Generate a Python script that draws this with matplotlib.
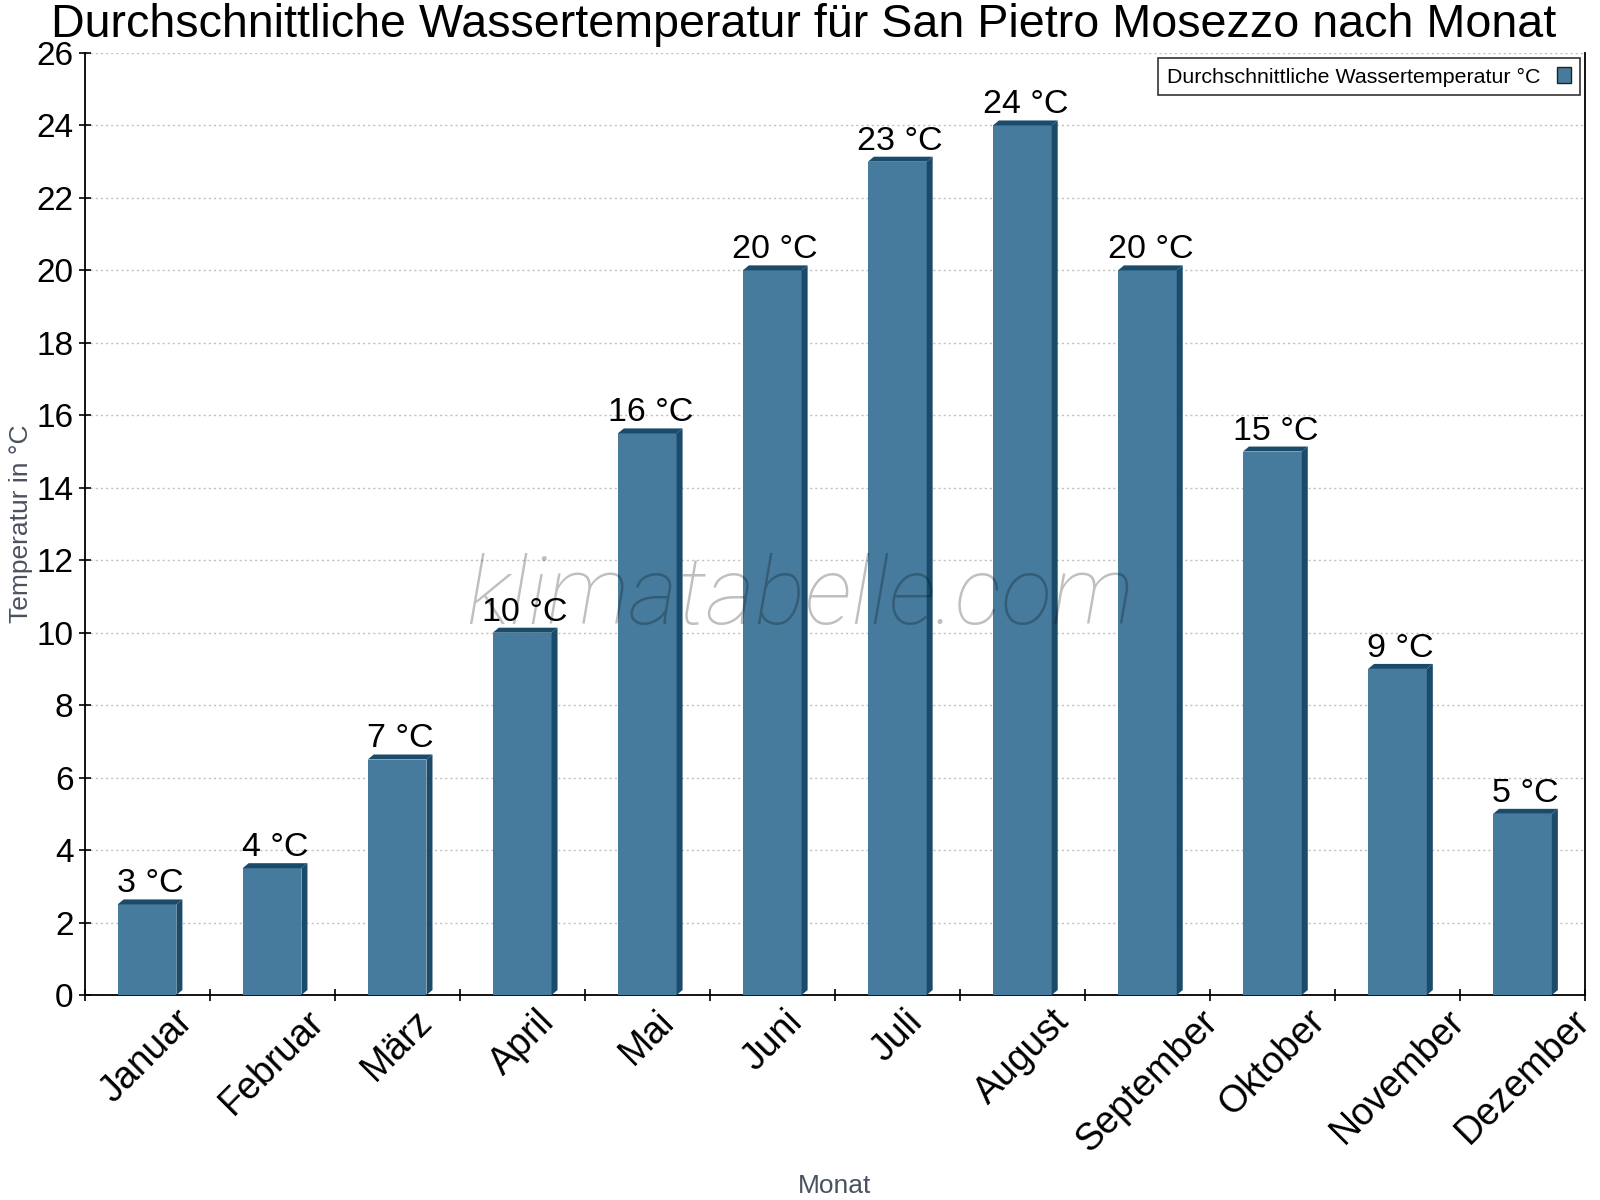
import matplotlib
matplotlib.use("Agg")
import matplotlib.pyplot as plt
from matplotlib.patches import Polygon, Patch
from matplotlib.ticker import FixedLocator

plt.rcParams['font.family'] = ['Liberation Sans', 'DejaVu Sans']

months = ["Januar", "Februar", "März", "April", "Mai", "Juni", "Juli",
          "August", "September", "Oktober", "November", "Dezember"]
water_temp = [2.5, 3.5, 6.5, 10, 15.5, 20, 23, 24, 20, 15, 9, 5]
label_temp = [3, 4, 7, 10, 16, 20, 23, 24, 20, 15, 9, 5]
yticks = list(range(0, 27, 2))

title = "Durchschnittliche Wassertemperatur für San Pietro Mosezzo nach Monat"
series_name = "Durchschnittliche Wassertemperatur °C"

front_col = "#467b9d"
dark_col = "#1a4b6b"

fig = plt.figure(figsize=(16, 12), dpi=100)
ax = fig.add_axes([84.5/1600, 1-995/1200, (1585-84.5)/1600, (995-53)/1200])

x = list(range(len(months)))
bars = ax.bar(x, water_temp, width=0.47, color=front_col, linewidth=0, zorder=3)

dx = 6/125.0
dy = 5/36.23
for b in bars:
    x0 = b.get_x()
    x1 = x0 + b.get_width()
    h = b.get_height()
    top = Polygon([(x0, h), (x0+dx, h+dy), (x1+dx, h+dy), (x1, h)],
                  closed=True, facecolor=dark_col, edgecolor='none', zorder=3)
    side = Polygon([(x1, 0), (x1, h), (x1+dx, h+dy), (x1+dx, dy)],
                   closed=True, facecolor=dark_col, edgecolor='none', zorder=3)
    ax.add_patch(top)
    ax.add_patch(side)

for i, (v, lab) in enumerate(zip(water_temp, label_temp)):
    ax.text(i + dx/2, v + dy, f"{lab} °C", ha='center', va='bottom',
            fontsize=24.5, color='black', zorder=5)

ax.set_xlim(-0.5, len(months) - 0.5)
ax.set_ylim(0, 26)
ax.set_yticks(yticks)
ax.set_xticks(x)
ax.set_xticklabels(months, rotation=45, ha='center', fontsize=27)
ax.xaxis.set_minor_locator(FixedLocator([i - 0.5 for i in range(len(months) + 1)]))
ax.tick_params(axis='x', which='major', length=0, pad=6)
ax.tick_params(axis='x', which='minor', length=8, width=1.2, direction='inout')
ax.tick_params(axis='y', which='major', length=8, width=1.2, direction='inout',
               labelsize=24, pad=4)

ax.grid(axis='y', linestyle=(0, (1.5, 2.2)), color='#c0c0c0', linewidth=1.0, zorder=0)
ax.set_axisbelow(True)

ax.spines['top'].set_visible(False)
for s in ['left', 'bottom', 'right']:
    ax.spines[s].set_linewidth(1.3)
    ax.spines[s].set_color('black')

fig.text(0.502, 1-37/1200, title, ha='center', va='baseline', fontsize=33.6)

ax.set_ylabel("Temperatur in °C", fontsize=19, color='#4a5260')
ax.yaxis.label.set_va('center')
ax.yaxis.set_label_coords((21-84.5)/1500.5, 0.5)
fig.text(835/1600, 1-1193/1200, "Monat", ha='center', va='baseline',
         fontsize=19, color='#4a5260')

handle = Patch(facecolor=front_col, edgecolor='#222222', linewidth=1.0)
leg = ax.legend([handle], [series_name], loc='upper right', markerfirst=False,
                fontsize=15.4, fancybox=False, shadow=False, frameon=True,
                handlelength=0.65, handleheight=0.8, borderaxespad=0.25,
                handletextpad=0.8, borderpad=0.4)
leg.get_frame().set_edgecolor('black')
leg.get_frame().set_linewidth(1.2)
leg.set_zorder(6)

fig.text(0.5, 1-598/1200, "klimatabelle.com", ha='center', va='center',
         fontsize=68, fontstyle='italic', fontweight='light',
         family=['Roboto', 'DejaVu Sans'], color='black', alpha=0.25, zorder=10)

fig.savefig("out.png", dpi=100)
